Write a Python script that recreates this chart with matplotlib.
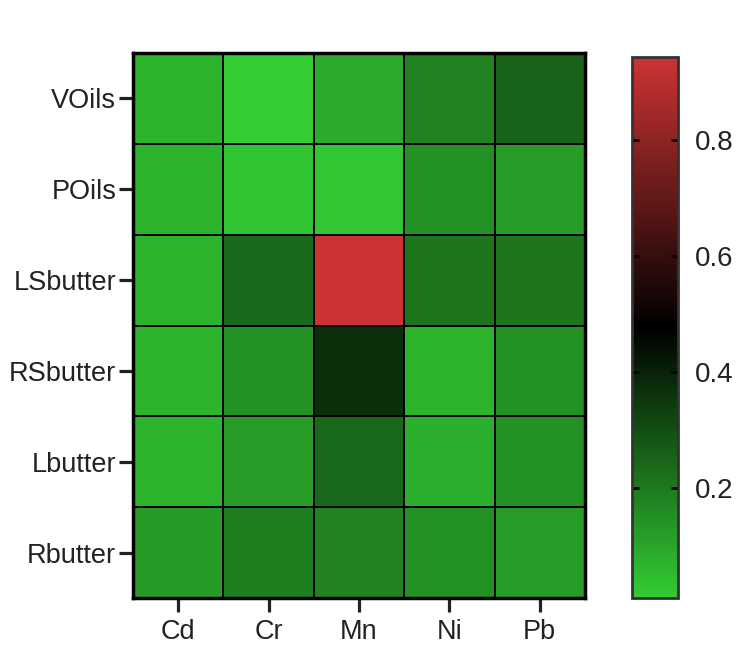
import matplotlib
matplotlib.use("Agg")
import matplotlib.pyplot as plt
import numpy as np
from matplotlib.colors import LinearSegmentedColormap

rows = ["VOils", "POils", "LSbutter", "RSbutter", "Lbutter", "Rbutter"]
cols = ["Cd", "Cr", "Mn", "Ni", "Pb"]
values = [
    [0.065, 0.012, 0.088, 0.180, 0.253],
    [0.065, 0.030, 0.024, 0.145, 0.120],
    [0.065, 0.237, 0.943, 0.210, 0.210],
    [0.065, 0.145, 0.374, 0.065, 0.145],
    [0.065, 0.120, 0.237, 0.076, 0.145],
    [0.130, 0.190, 0.180, 0.145, 0.120],
]
vmin, vmax = 0.01, 0.943
cbar_ticks = [0.2, 0.4, 0.6, 0.8]

plt.rcParams['font.family'] = ['Liberation Sans', 'DejaVu Sans']
cmap = LinearSegmentedColormap.from_list("gbr", ["#33cc33", "#000000", "#cc3333"])

fig = plt.figure(figsize=(7.48, 6.68), dpi=100)
W, H = 748, 668
ax = fig.add_axes([133 / W, 1 - 598 / H, (585 - 133) / W, (598 - 53) / H])
cax = fig.add_axes([632 / W, 1 - 598 / H, (678 - 632) / W, (598 - 57) / H])

data = np.array(values)
mesh = ax.pcolormesh(np.arange(len(cols) + 1), np.arange(len(rows) + 1), data,
                     cmap=cmap, vmin=vmin, vmax=vmax, edgecolors='black', linewidth=1.3)
ax.set_xlim(0, len(cols))
ax.set_ylim(len(rows), 0)
ax.set_xticks(np.arange(len(cols)) + 0.5)
ax.set_xticklabels(cols)
ax.set_yticks(np.arange(len(rows)) + 0.5)
ax.set_yticklabels(rows)
ax.tick_params(axis='both', direction='out', length=10, width=2.3, labelsize=19.5,
               color='#222222', labelcolor='#222222')
ax.tick_params(axis='y', pad=2)
ax.tick_params(axis='x', pad=5)
for s in ax.spines.values():
    s.set_linewidth(2.5)
    s.set_color('black')

cb = fig.colorbar(mesh, cax=cax)
cb.set_ticks(cbar_ticks)
cb.set_ticklabels([f"{t:.1f}" for t in cbar_ticks])
cax.tick_params(axis='y', direction='in', length=5, width=2, labelsize=20, right=True, left=True,
                pad=12, labelcolor='#222222')
cb.outline.set_linewidth(2)
cb.outline.set_edgecolor('#333333')

fig.savefig("out.png", dpi=100)
